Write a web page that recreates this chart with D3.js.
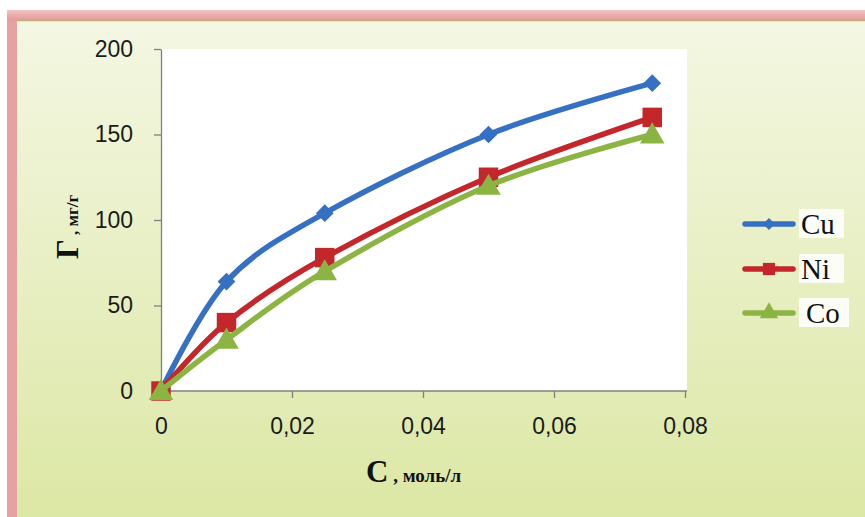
<!DOCTYPE html>
<html lang="ru">
<head>
<meta charset="UTF-8">
<title>Г от C</title>
<script src="https://d3js.org/d3.v7.min.js"></script>
<style>
  body { margin: 0; background: #fff; }
</style>
</head>
<body>
<svg width="865" height="517"></svg>
<script>
    // data
    const conc = [0, 0.01, 0.025, 0.05, 0.075];
    const cuVals = [0, 64, 104, 150, 180];
    const niVals = [0, 40, 78, 125, 160];
    const coVals = [0, 30, 70, 120, 150];
    const seriesNames = ["Cu", "Ni", "Co"];
    const xTicks = [0, 0.02, 0.04, 0.06, 0.08];
    const yTicks = [0, 50, 100, 150, 200];

    const colors = { Cu: "#3670c2", Ni: "#c3272b", Co: "#8cb443" };
    const shapes = { Cu: d3.symbolDiamond2, Ni: d3.symbolSquare, Co: d3.symbolTriangle };
    const markSize = { Cu: 200, Ni: 380, Co: 260 };

    let svg = d3.select("svg");

    // frame + background
    let defs = svg.append("defs");
    let bg = defs.append("linearGradient").attr("id", "bg")
        .attr("x1", 0).attr("y1", 0).attr("x2", 0).attr("y2", 1);
    bg.append("stop").attr("offset", "0%").attr("stop-color", "#f4f7e3");
    bg.append("stop").attr("offset", "100%").attr("stop-color", "#dbe7a3");
    let pink = defs.append("linearGradient").attr("id", "pink")
        .attr("x1", 0).attr("y1", 0).attr("x2", 0).attr("y2", 1);
    pink.append("stop").attr("offset", "0%").attr("stop-color", "#f2c4c4");
    pink.append("stop").attr("offset", "100%").attr("stop-color", "#e39a9a");

    svg.append("rect").attr("x", 7).attr("y", 10).attr("width", 870).attr("height", 520)
        .attr("fill", "#e6a2a2");
    svg.append("rect").attr("x", 7).attr("y", 10).attr("width", 870).attr("height", 10)
        .attr("fill", "url(#pink)");
    svg.append("rect").attr("x", 17).attr("y", 20).attr("width", 860).attr("height", 510)
        .attr("fill", "url(#bg)");
    svg.append("line").attr("x1", 17).attr("x2", 865).attr("y1", 20.5).attr("y2", 20.5)
        .attr("stroke", "#c2ad7a").attr("stroke-width", 1.5);

    const plotL = 161, plotR = 685, plotT = 49, plotB = 391;

    let x = d3.scaleLinear().domain([0, 0.08]).range([plotL, plotR]);
    let y = d3.scaleLinear().domain([0, 200]).range([plotB, plotT]);

    svg.append("rect").attr("x", plotL).attr("y", plotT)
        .attr("width", plotR - plotL + 2).attr("height", plotB - plotT)
        .attr("fill", "#fff");

    let fmt = d => d === 0 ? "0" : d3.format(".2f")(d).replace(".", ",");

    let xAxis = svg.append("g").attr("transform", `translate(0,${plotB})`)
        .call(d3.axisBottom(x).tickValues(xTicks).tickFormat(fmt).tickSize(7).tickSizeOuter(0).tickPadding(20));
    let yAxis = svg.append("g").attr("transform", `translate(${plotL},0)`)
        .call(d3.axisLeft(y).tickValues(yTicks).tickSize(7).tickSizeOuter(0).tickPadding(21));

    [xAxis, yAxis].forEach(function (a) {
        a.select(".domain").attr("stroke", "#808080").attr("stroke-width", 1.3);
        a.selectAll(".tick line").attr("stroke", "#808080").attr("stroke-width", 1.3);
        a.selectAll(".tick text").attr("fill", "#1a1a1a")
            .style("font-family", "'Liberation Sans', Arial, sans-serif").style("font-size", "23px");
    });
    xAxis.select(".domain").attr("d", `M${plotL},0H${plotR + 2}`);

    // series
    const table = seriesNames.map(function (name) {
        let vals = name === "Cu" ? cuVals : name === "Ni" ? niVals : coVals;
        return { name: name, points: conc.map((c, i) => ({ c: c, v: vals[i] })) };
    });

    let line = d3.line().x(d => x(d.c)).y(d => y(d.v)).curve(d3.curveCardinal.tension(0));

    table.forEach(function (s) {
        svg.append("path").datum(s.points)
            .attr("d", line)
            .attr("fill", "none")
            .attr("stroke", colors[s.name])
            .attr("stroke-width", 5.5)
            .attr("stroke-linejoin", "round");
        svg.append("g").selectAll("path")
            .data(s.points)
            .enter()
            .append("path")
            .attr("transform", d => `translate(${x(d.c)},${y(d.v) + (s.name === "Co" ? 2 : 0)})`)
            .attr("d", d3.symbol().type(shapes[s.name]).size(markSize[s.name]))
            .attr("fill", colors[s.name]);
    });

    // axis titles
    let xt = svg.append("text").attr("x", 366).attr("y", 482)
        .style("font-family", "'Liberation Serif', 'Times New Roman', serif")
        .style("font-weight", "bold").attr("fill", "#111");
    xt.append("tspan").style("font-size", "31px").text("С");
    xt.append("tspan").style("font-size", "19px").text(" , моль/л");

    let yt = svg.append("text").attr("transform", "translate(78,259) rotate(-90)")
        .style("font-family", "'Liberation Serif', 'Times New Roman', serif")
        .style("font-weight", "bold").attr("fill", "#111");
    yt.append("tspan").style("font-size", "31px").text("Г");
    yt.append("tspan").style("font-size", "17px").text(" , мг/г");

    // legend
    const legendY = [224, 269, 313];
    seriesNames.forEach(function (name, i) {
        let g = svg.append("g").attr("transform", `translate(0,${legendY[i]})`);
        g.append("line").attr("x1", 745).attr("x2", 793)
            .attr("stroke", colors[name]).attr("stroke-width", 5.5).attr("stroke-linecap", "round");
        g.append("path").attr("transform", "translate(769,0)")
            .attr("d", d3.symbol().type(shapes[name]).size(name === "Cu" ? 90 : 150))
            .attr("fill", colors[name]);
        g.append("rect").attr("x", 799).attr("y", -15)
            .attr("width", name === "Co" ? 50 : 45).attr("height", 29).attr("fill", "#fdfdf8");
        g.append("text").attr("x", name === "Co" ? 806 : 801).attr("y", 10)
            .style("font-family", "'Liberation Serif', 'Times New Roman', serif")
            .style("font-size", "29px").attr("fill", "#111")
            .text(name);
    });
</script>
</body>
</html>
